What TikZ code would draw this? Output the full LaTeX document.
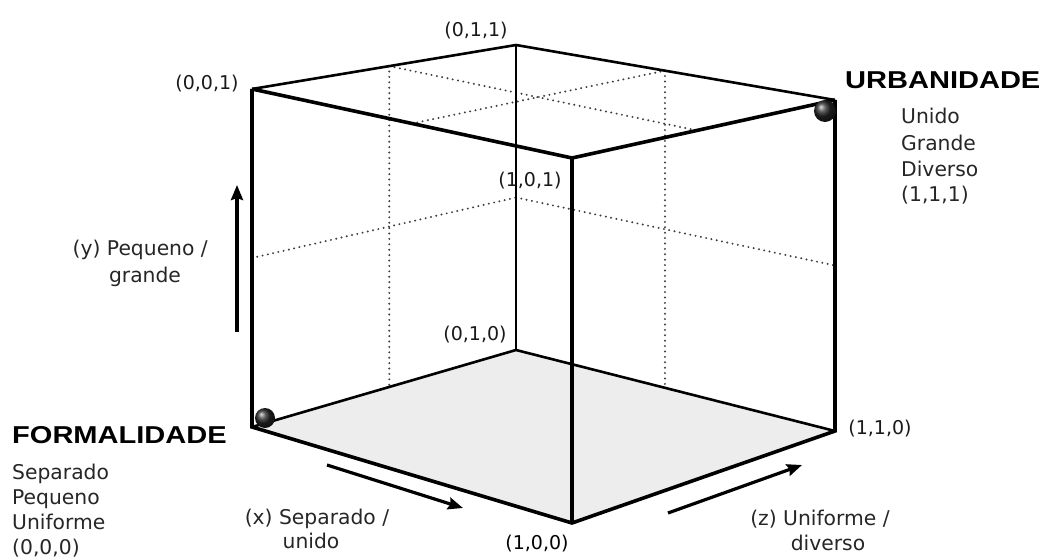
\documentclass[tikz,border=0pt]{standalone}
\usepackage{fontspec}
\setmainfont{DejaVu Sans}
\newfontfamily\titlefont[FakeStretch=1.19]{Liberation Sans}
\usetikzlibrary{arrows.meta,calc}
\begin{document}
\begin{tikzpicture}[x=1pt,y=-1pt,
  thickedge/.style={line width=3.6pt, line join=miter},
  thinedge/.style={line width=2.6pt, line join=miter},
  hairedge/.style={line width=1.8pt},
  dots/.style={line width=2.2pt, dash pattern=on 0pt off 5.4pt, line cap=round, black!75},
  axisarrow/.style={line width=3.2pt, -{Stealth[length=15pt,width=12pt,inset=2pt]}},
  corner/.style={font=\fontsize{19}{22}\selectfont, anchor=base, inner sep=0pt, text=black!90},
  desc/.style={font=\fontsize{20.3}{24}\selectfont, anchor=base west, inner sep=0pt, text=black!85},
  axislabel/.style={font=\fontsize{20.3}{24}\selectfont, anchor=base, inner sep=0pt, text=black!85},
  title/.style={font=\titlefont\bfseries\fontsize{24.4}{29}\selectfont, anchor=base west, inner sep=0pt},
  ball/.style={circle, inner sep=0pt, minimum size=20pt, shading=ball, ball color=black!85}
]
\useasboundingbox (0,0) rectangle (1043,559);

% cube vertices
\coordinate (A) at (252,89);   % (0,0,1)
\coordinate (B) at (516,45);   % (0,1,1)
\coordinate (C) at (572,158);  % (1,0,1)
\coordinate (D) at (835,100);  % (1,1,1)
\coordinate (E) at (252,427);  % (0,0,0)
\coordinate (F) at (516,350);  % (0,1,0)
\coordinate (G) at (572,523);  % (1,0,0)
\coordinate (H) at (835,431);  % (1,1,0)

% shaded floor
\fill[black!7] (E) -- (G) -- (H) -- (F) -- cycle;

% dotted mid-lines
\coordinate (ab) at ($(A)!0.52!(B)$);
\coordinate (ef) at ($(E)!0.52!(F)$);
\coordinate (cd) at ($(C)!0.475!(D)$);
\coordinate (ac) at ($(A)!0.5!(C)$);
\coordinate (bd) at ($(B)!0.467!(D)$);
\coordinate (fh) at ($(F)!0.467!(H)$);
\coordinate (ae) at ($(A)!0.5!(E)$);
\coordinate (bf) at ($(B)!0.5!(F)$);
\coordinate (dh) at ($(D)!0.5!(H)$);
\draw[dots] (ab) -- (cd);
\draw[dots] (ac) -- (bd);
\draw[dots] (ab) -- (ef);
\draw[dots] (bd) -- (fh);
\draw[dots] (ae) -- (bf);
\draw[dots] (bf) -- (dh);

% back edges
\draw[thinedge] (A) -- (B) -- (D);
\draw[hairedge] (B) -- (F);
\draw[thinedge] (E) -- (F) -- (H);

% front edges
\draw[thickedge] (A) -- (C) -- (D);
\draw[thickedge] (D) -- (H) -- (G) -- (E) -- (A);
\draw[thickedge] (C) -- (G);

% balls
\node[ball] (ballE) at (265,418) {};
\node[ball, minimum size=22pt] (ballD) at (825,111) {};

% axis arrows
\coordinate (ys) at (237,332); \coordinate (ye) at (237,185);
\coordinate (xs) at (327,465); \coordinate (xe) at (463,508);
\coordinate (zs) at (668,513); \coordinate (ze) at (802,465);
\draw[axisarrow] (ys) -- (ye);
\draw[axisarrow] (xs) -- (xe);
\draw[axisarrow] (zs) -- (ze);

% corner labels
\node[corner] (l011) at (476,37) {(0,1,1)};
\node[corner] (l001) at (207,90) {(0,0,1)};
\node[corner] (l101) at (530,186) {(1,0,1)};
\node[corner] (l010) at (475,340) {(0,1,0)};
\node[corner, text=black] (l100) at (537,549) {(1,0,0)};
\node[corner] (l110) at (880,434) {(1,1,0)};

% titles
\node[title] (formal) at (12,443) {FORMALIDADE};
\node[title] (urban) at (845,89) {URBANIDADE};

% descriptions
\node[desc] (u1) at (901,124) {Unido};
\node[desc] (u2) at (901,150) {Grande};
\node[desc] (u3) at (901,176) {Diverso};
\node[desc] (u4) at (901,201) {(1,1,1)};
\node[desc] (f1) at (12,479) {Separado};
\node[desc] (f2) at (12,504) {Pequeno};
\node[desc] (f3) at (12,529) {Uniforme};
\node[desc] (f4) at (12,554) {(0,0,0)};

% axis labels
\node[axislabel, anchor=base east] (y1) at (208,255) {(y) Pequeno /};
\node[axislabel] (y2) at (145,282) {grande};
\node[axislabel] (x1) at (317,524) {(x) Separado /};
\node[axislabel] (x2) at (311,548) {unido};
\node[axislabel] (z1) at (820,525) {(z) Uniforme /};
\node[axislabel] (z2) at (828,550) {diverso};
\end{tikzpicture}
\end{document}
